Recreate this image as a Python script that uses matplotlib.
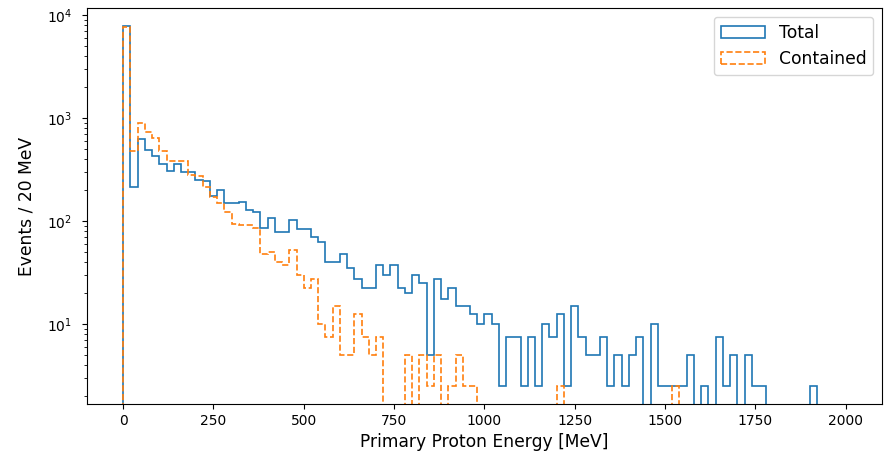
import numpy as np
import matplotlib
matplotlib.use("Agg")
import matplotlib.pyplot as plt

# 20 MeV bins from 0 to 2000 MeV
bin_edges = np.arange(0, 2001, 20)

# events / 20 MeV (bins 0..99)
total = [
    7750, 212, 625, 490, 429, 356, 302, 353, 295, 295,
    252, 245, 175, 200, 148, 148, 154, 127, 121, 86,
    107, 78, 78, 103, 84, 84, 70, 63, 40, 40,
    47.5, 35, 27.5, 22.5, 22.5, 37.5, 30, 37.5, 22.5, 20,
    30, 25, 5, 27.5, 17.5, 22.5, 15, 15, 12.5, 10,
    12.5, 10, 2.5, 7.5, 7.5, 2.5, 7.5, 2.5, 10, 7.5,
    12.5, 2.5, 15, 7.5, 5, 5, 7.5, 2.5, 5, 2.5,
    5, 7.5, 0, 10, 2.5, 2.5, 2.5, 2.5, 5, 0,
    2.5, 0, 7.5, 2.5, 5, 0, 5, 2.5, 2.5, 0,
    0, 0, 0, 0, 0, 2.5, 0, 0, 0, 0,
]

contained = [
    7650, 478, 888, 728, 640, 475, 378, 378, 378, 280,
    272, 215, 169, 150, 121, 94, 92, 92, 86, 47.5,
    50, 40, 37.5, 52.5, 30, 22.5, 27.5, 10, 7.5, 15,
    5, 5, 12.5, 7.5, 5, 7.5, 0, 0, 0, 5,
    0, 5, 2.5, 5, 0, 2.5, 5, 2.5, 2.5, 0,
    0, 0, 0, 0, 0, 0, 0, 0, 0, 0,
    2.5, 0, 0, 0, 0, 0, 0, 0, 0, 0,
    0, 0, 0, 0, 0, 0, 2.5, 0, 0, 0,
    0, 0, 0, 0, 0, 0, 0, 0, 0, 0,
    0, 0, 0, 0, 0, 0, 0, 0, 0, 0,
]

fig = plt.figure(figsize=(8.88, 4.61), dpi=100)
ax = fig.add_axes([0.098, 0.124, 0.895, 0.858])

centers = bin_edges[:-1]
ax.hist(centers, bins=bin_edges, weights=total, histtype="step",
        color="C0", lw=1.2, label="Total")
ax.hist(centers, bins=bin_edges, weights=contained, histtype="step",
        color="C1", lw=1.2, ls="--", label="Contained")

ax.set_yscale("log")
ax.set_xlim(-100, 2100)
ax.set_ylim(1.67, 11600)
ax.set_xticks([0, 250, 500, 750, 1000, 1250, 1500, 1750, 2000])
ax.tick_params(labelsize=10)
ax.tick_params(axis="y", pad=7)

ax.set_xlabel("Primary Proton Energy [MeV]", fontsize=12.3)
ax.set_ylabel("Events / 20 MeV", fontsize=12.3, labelpad=8)
ax.legend(loc="upper right", fontsize=12.3, handlelength=2.6)

fig.savefig("out.png", dpi=100)
